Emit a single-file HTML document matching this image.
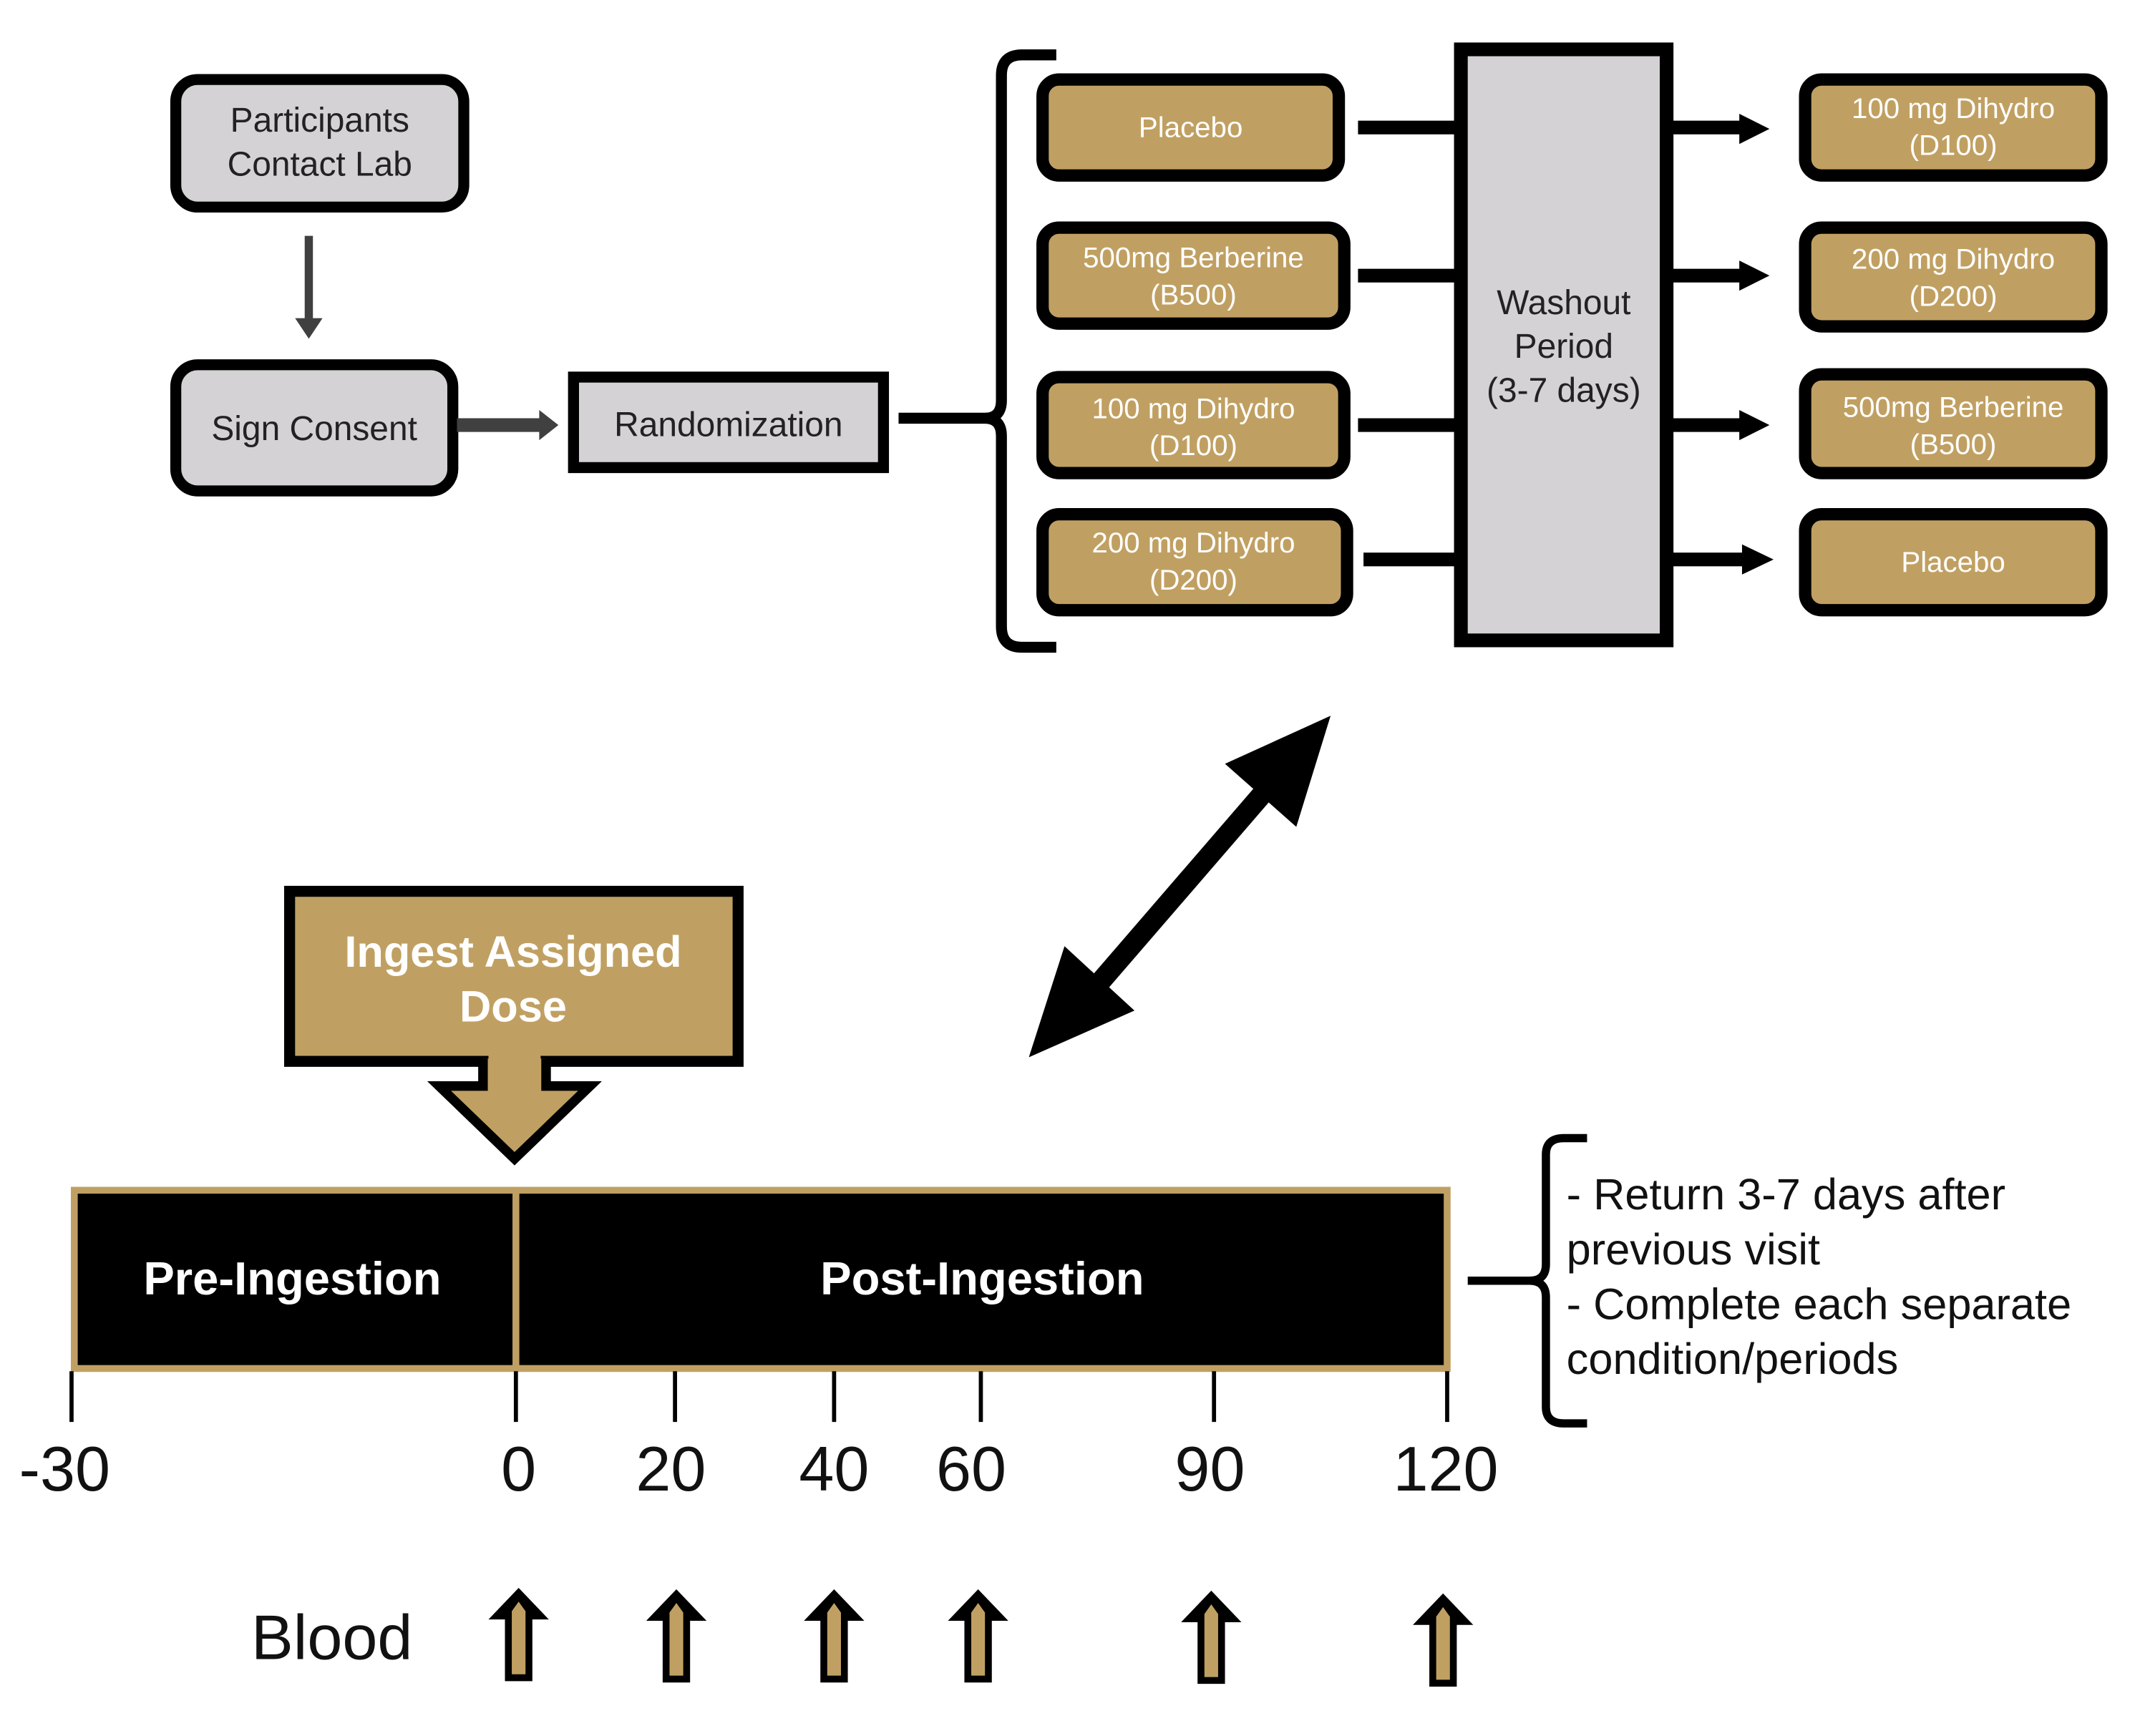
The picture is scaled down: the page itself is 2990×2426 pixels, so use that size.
<!DOCTYPE html>
<html><head><meta charset="utf-8"><style>
html,body{margin:0;padding:0;background:#fff}
svg{display:block}
text{font-family:"Liberation Sans",sans-serif}
</style></head><body>
<svg width="2990" height="2426" viewBox="0 0 1560 1266" xmlns="http://www.w3.org/2000/svg">
<defs>
<g id="up"><path d="M0,-34 L22,-11 L10,-11 L10,34 L-10,34 L-10,-11 L-22,-11 Z" fill="#000"/><path d="M0,-24 L5,-17 L5,29 L-5,29 L-5,-17 Z" fill="#c0a062"/></g>
</defs>
<rect width="1560" height="1266" fill="#fff"/>
<!-- top-left -->
<rect x="128" y="58" width="210" height="93" rx="16" fill="#d4d2d4" stroke="#000" stroke-width="8"/>
<text x="233" y="96" font-size="25" text-anchor="middle" fill="#222">Participants</text>
<text x="233" y="128" font-size="25" text-anchor="middle" fill="#222">Contact Lab</text>
<rect x="222" y="172" width="6" height="62" fill="#404040"/>
<path d="M215,232 L235,232 L225,247 Z" fill="#404040"/>
<rect x="128" y="266" width="202" height="92" rx="16" fill="#d4d2d4" stroke="#000" stroke-width="8"/>
<text x="229" y="321" font-size="25" text-anchor="middle" fill="#222">Sign Consent</text>
<rect x="333" y="305" width="62" height="10" fill="#404040"/>
<path d="M393,299 L407,310 L393,321 Z" fill="#404040"/>
<rect x="418" y="275" width="226" height="66" fill="#d4d2d4" stroke="#000" stroke-width="8"/>
<text x="531" y="318" font-size="25" text-anchor="middle" fill="#222">Randomization</text>
<!-- bracket -->
<path d="M655,305 L718,305 Q730,305 730,292 L730,55 Q730,40 745,40 L770,40 M730,318 L730,457 Q730,472 745,472 L770,472 M718,305 Q730,305 730,318" fill="none" stroke="#000" stroke-width="8"/>
<!-- left gold boxes -->
<g fill="#c0a062" stroke="#000" stroke-width="9">
<rect x="760" y="58" width="216" height="70" rx="12"/>
<rect x="760" y="166" width="220" height="70" rx="12"/>
<rect x="760" y="275" width="220" height="70" rx="12"/>
<rect x="760" y="375" width="222" height="70" rx="12"/>
<rect x="1316" y="58" width="216" height="70" rx="12"/>
<rect x="1316" y="166" width="216" height="72" rx="12"/>
<rect x="1316" y="273" width="216" height="72" rx="12"/>
<rect x="1316" y="375" width="216" height="70" rx="12"/>
</g>
<g fill="#fff" font-size="21" text-anchor="middle">
<text x="868" y="100">Placebo</text>
<text x="870" y="195">500mg Berberine</text><text x="870" y="222">(B500)</text>
<text x="870" y="305">100 mg Dihydro</text><text x="870" y="332">(D100)</text>
<text x="870" y="403">200 mg Dihydro</text><text x="870" y="430">(D200)</text>
<text x="1424" y="86">100 mg Dihydro</text><text x="1424" y="113">(D100)</text>
<text x="1424" y="196">200 mg Dihydro</text><text x="1424" y="223">(D200)</text>
<text x="1424" y="304">500mg Berberine</text><text x="1424" y="331">(B500)</text>
<text x="1424" y="417">Placebo</text>
</g>
<g stroke="#000" stroke-width="10">
<line x1="990" y1="93" x2="1064" y2="93"/>
<line x1="990" y1="201" x2="1064" y2="201"/>
<line x1="990" y1="310" x2="1064" y2="310"/>
<line x1="994" y1="408" x2="1064" y2="408"/>
<line x1="1215" y1="93" x2="1272" y2="93"/>
<line x1="1215" y1="201" x2="1272" y2="201"/>
<line x1="1215" y1="310" x2="1272" y2="310"/>
<line x1="1215" y1="408" x2="1274" y2="408"/>
</g>
<g fill="#000">
<path d="M1268,83 L1290,94 L1268,105 Z"/>
<path d="M1268,190 L1290,201 L1268,212 Z"/>
<path d="M1268,299 L1290,310 L1268,321 Z"/>
<path d="M1270,397 L1293,408 L1270,419 Z"/>
</g>
<rect x="1065" y="36" width="150" height="431" fill="#d4d2d4" stroke="#000" stroke-width="10"/>
<g font-size="25" text-anchor="middle" fill="#222">
<text x="1140" y="229">Washout</text><text x="1140" y="261">Period</text><text x="1140" y="293">(3-7 days)</text>
</g>
<!-- double arrow -->
<line x1="790" y1="730" x2="935" y2="562" stroke="#000" stroke-width="15"/>
<path d="M970,522 L945,603 L893,557 Z" fill="#000"/>
<path d="M750,771 L776,690 L827,737 Z" fill="#000"/>
<!-- ingest -->
<rect x="211" y="650" width="327" height="124" fill="#c0a062" stroke="#000" stroke-width="8"/>
<path d="M352,772 L352,792 L320,792 L375,845 L430,792 L398,792 L398,772" fill="#c0a062" stroke="#000" stroke-width="7"/>
<rect x="356" y="768" width="38" height="10" fill="#c0a062"/>
<g font-size="32" font-weight="bold" text-anchor="middle" fill="#fff">
<text x="374" y="705">Ingest Assigned</text><text x="374" y="745">Dose</text>
</g>
<!-- timeline -->
<rect x="54" y="868" width="1001" height="130" fill="#000" stroke="#c0a062" stroke-width="5"/>
<line x1="376" y1="868" x2="376" y2="998" stroke="#c0a062" stroke-width="5"/>
<g font-size="34" font-weight="bold" text-anchor="middle" fill="#fff">
<text x="213" y="944">Pre-Ingestion</text><text x="716" y="944">Post-Ingestion</text>
</g>
<g stroke="#000" stroke-width="3">
<line x1="52" y1="1000" x2="52" y2="1037"/><line x1="376" y1="1000" x2="376" y2="1037"/>
<line x1="492" y1="1000" x2="492" y2="1037"/><line x1="608" y1="1000" x2="608" y2="1037"/>
<line x1="715" y1="1000" x2="715" y2="1037"/><line x1="885" y1="1000" x2="885" y2="1037"/>
<line x1="1055" y1="1000" x2="1055" y2="1037"/>
</g>
<g font-size="46" text-anchor="middle" fill="#111">
<text x="47" y="1087">-30</text><text x="378" y="1087">0</text><text x="489" y="1087">20</text>
<text x="608" y="1087">40</text><text x="708" y="1087">60</text><text x="882" y="1087">90</text>
<text x="1054" y="1087">120</text>
</g>
<path d="M1070,934 L1115,934 Q1127,934 1127,922 L1127,842 Q1127,830 1140,830 L1157,830 M1115,934 Q1127,934 1127,946 L1127,1026 Q1127,1038 1140,1038 L1157,1038" fill="none" stroke="#000" stroke-width="6"/>
<g font-size="32" fill="#111">
<text x="1142" y="882">- Return 3-7 days after</text>
<text x="1142" y="922">previous visit</text>
<text x="1142" y="962">- Complete each separate</text>
<text x="1142" y="1002">condition/periods</text>
</g>
<text x="183" y="1210" font-size="46" fill="#111">Blood</text>
<use href="#up" x="378" y="1192"/><use href="#up" x="493" y="1193"/><use href="#up" x="608" y="1193"/>
<use href="#up" x="713" y="1193"/><use href="#up" x="883" y="1194"/><use href="#up" x="1052" y="1196"/>
</svg>
</body></html>
